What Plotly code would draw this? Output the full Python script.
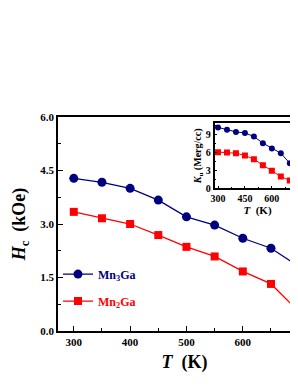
import plotly.graph_objects as go

T = [300, 350, 400, 450, 500, 550, 600, 650, 700]
hc_mn3ga = [4.28, 4.17, 4.00, 3.67, 3.20, 2.97, 2.60, 2.32, 1.80]
hc_mn2ga = [3.34, 3.16, 3.00, 2.69, 2.36, 2.09, 1.67, 1.32, 0.53]
ku_mn3ga = [10.2, 9.8, 9.45, 9.28, 8.67, 7.57, 6.67, 5.9, 4.2]
ku_mn2ga = [6.07, 6.0, 5.9, 5.5, 4.9, 3.9, 2.95, 2.0, 1.33]

BLUE = "#00007f"
RED = "#ff0000"
FONT = "Liberation Serif"

fig = go.Figure()
fig.add_trace(go.Scatter(x=T, y=hc_mn3ga, mode="lines+markers", name="Mn<sub>3</sub>Ga",
                         line=dict(color=BLUE, width=1.3),
                         marker=dict(symbol="circle", size=9, color=BLUE),
                         legend="legend"))
fig.add_trace(go.Scatter(x=T, y=hc_mn2ga, mode="lines+markers", name="Mn<sub>2</sub>Ga",
                         line=dict(color=RED, width=1.3),
                         marker=dict(symbol="square", size=8, color=RED),
                         legend="legend2"))
fig.add_trace(go.Scatter(x=T, y=ku_mn3ga, mode="lines+markers", showlegend=False,
                         xaxis="x2", yaxis="y2",
                         line=dict(color=BLUE, width=1),
                         marker=dict(symbol="circle", size=6, color=BLUE)))
fig.add_trace(go.Scatter(x=T, y=ku_mn2ga, mode="lines+markers", showlegend=False,
                         xaxis="x2", yaxis="y2",
                         line=dict(color=RED, width=1),
                         marker=dict(symbol="square", size=6, color=RED)))

axis_common = dict(showline=True, linecolor="black", linewidth=1.5, ticks="inside",
                   tickcolor="black", showgrid=False, zeroline=False)

fig.update_layout(
    width=314, height=385,
    margin=dict(l=50, r=5, t=109, b=62),
    plot_bgcolor="white", paper_bgcolor="white",
    font=dict(family=FONT, color="black"),
    xaxis=dict(range=[272, 721], tickvals=[300, 400, 500, 600, 700], ticklen=5, tickwidth=1.3,
               minor=dict(dtick=50, tick0=0, ticks="inside", ticklen=3, tickcolor="black"),
               mirror=True, tickfont=dict(size=11, family=FONT, weight="bold"),
               title=dict(text="<i>T</i>  (K)", font=dict(size=18, family=FONT, weight="bold"), standoff=8),
               **axis_common),
    yaxis=dict(range=[0, 6], tickvals=[0, 1.5, 3, 4.5, 6], ticktext=["0.0", "1.5", "3.0", "4.5", "6.0"],
               ticklen=5, tickwidth=1.3,
               minor=dict(dtick=0.75, tick0=0, ticks="inside", ticklen=3, tickcolor="black"),
               tickfont=dict(size=11, family=FONT, weight="bold"),
               title=dict(text="<i>H</i><sub>c</sub>  (kOe)", font=dict(size=18, family=FONT, weight="bold"), standoff=10),
               **axis_common),
    xaxis2=dict(domain=[0.619, 0.958], anchor="y2", range=[281, 759], tickvals=[300, 450, 600, 750],
                ticklen=3, minor=dict(dtick=75, tick0=0, ticks="inside", ticklen=2, tickcolor="black"),
                mirror=True, tickfont=dict(size=10, family=FONT, weight="bold"),
                title=dict(text="<i>T</i>  (K)", font=dict(size=11, family=FONT, weight="bold"), standoff=2),
                **axis_common),
    yaxis2=dict(domain=[0.666, 0.971], anchor="x2", range=[0, 10.9], tickvals=[0, 3, 6, 9],
                ticklen=3, minor=dict(dtick=1.5, tick0=0, ticks="inside", ticklen=2, tickcolor="black"),
                mirror=True, tickfont=dict(size=10, family=FONT, weight="bold"),
                title=dict(text="<i>K</i><sub>u</sub> (Merg/cc)", font=dict(size=10, family=FONT, weight="bold"), standoff=2),
                **axis_common),
    legend=dict(x=0.0, y=0.266, xanchor="left", yanchor="middle", bgcolor="rgba(0,0,0,0)",
                font=dict(size=12, family=FONT, color=BLUE, weight="bold"), itemwidth=30),
    legend2=dict(x=0.0, y=0.140, xanchor="left", yanchor="middle", bgcolor="rgba(0,0,0,0)",
                 font=dict(size=12, family=FONT, color=RED, weight="bold"), itemwidth=30),
)

fig.write_html("out.html",
               post_script="document.documentElement.style.overflow='hidden';document.body.style.overflow='hidden';")
